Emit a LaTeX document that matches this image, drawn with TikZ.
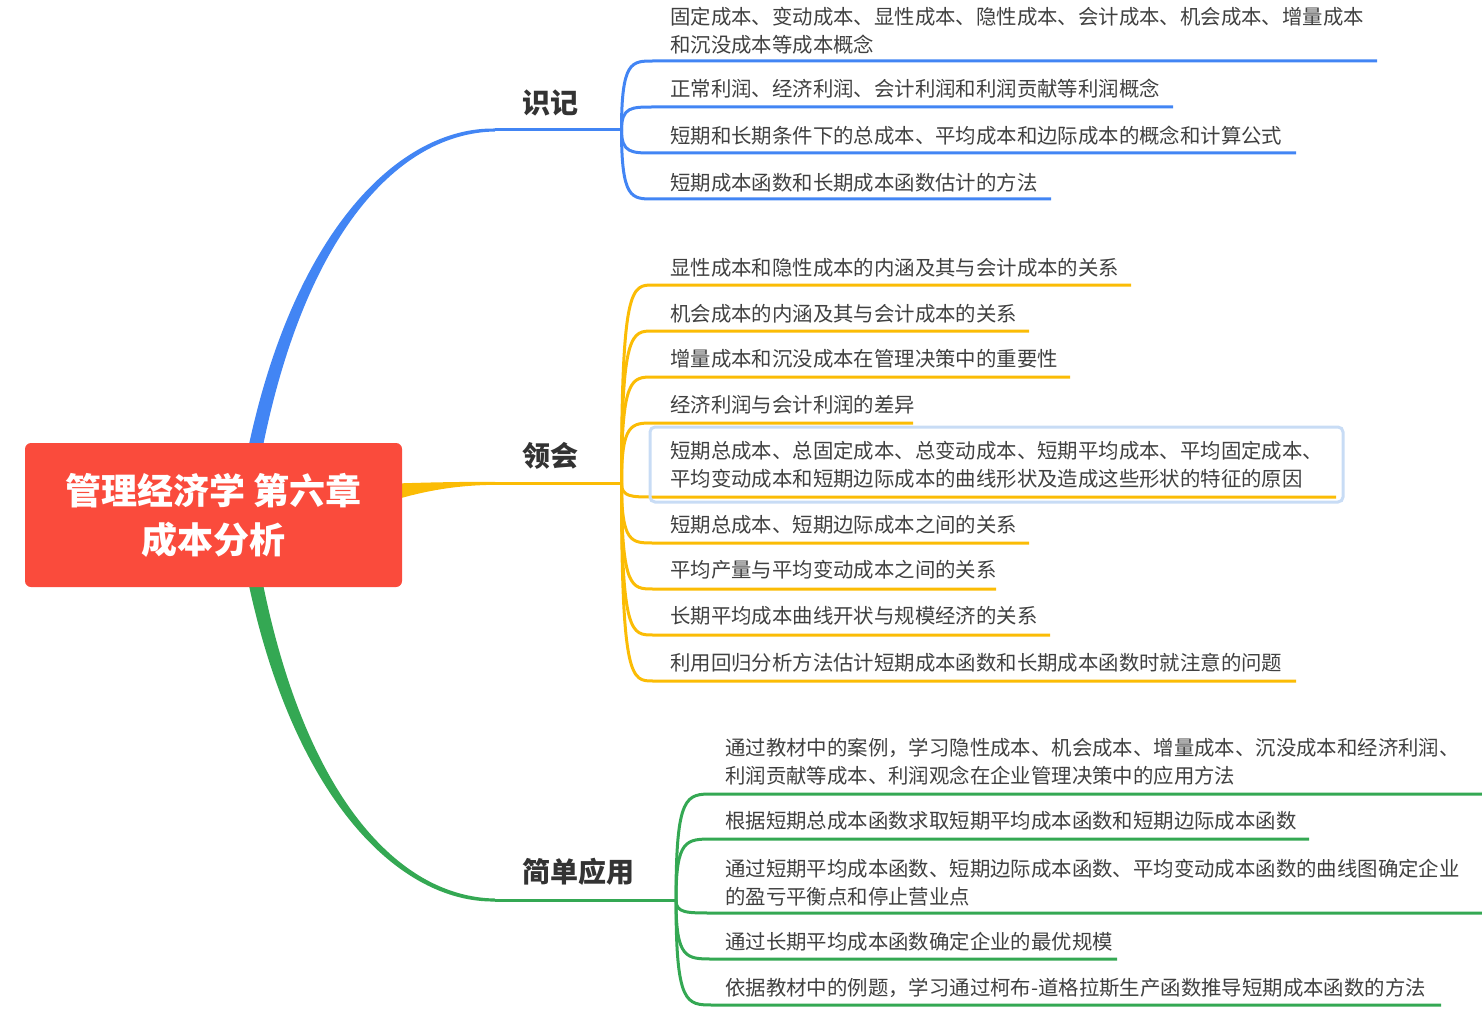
\documentclass[tikz,border=0pt]{standalone}
\usepackage{fontspec}
\setmainfont{Noto Sans CJK SC}
\usetikzlibrary{calc,backgrounds}
\definecolor{mmblue}{RGB}{66,133,244}
\definecolor{mmyellow}{RGB}{251,188,5}
\definecolor{mmgreen}{RGB}{52,168,83}
\definecolor{mmred}{RGB}{250,75,60}
\definecolor{mmtext}{RGB}{64,64,64}
\definecolor{mmlabel}{RGB}{51,51,51}
\definecolor{mmsel}{RGB}{200,220,245}
\tikzset{
  leaftext/.style={anchor=west, inner sep=0pt, align=left, text=mmtext, yshift=-1pt,
    font=\fontsize{20.4}{28}\selectfont},
  leafline/.style={line width=3pt},
  branchlabel/.style={anchor=west, inner sep=0pt, text=mmlabel,
    font=\fontsize{28}{34}\selectfont\bfseries},
  rootnode/.style={fill=mmred, rounded corners=6pt, minimum width=377pt,
    minimum height=144pt, text=white, align=center, inner sep=0pt,
    font=\fontsize{36}{49}\selectfont\bfseries},
  selbox/.style={draw=mmsel, line width=3pt, rounded corners=5pt},
}
% #1 colour, #2 junction, #3 name, #4 underline start x, #5 text x, #6 text y,
% #7 underline y, #8 underline end x, #9 text
\newcommand\mmleaf[9]{%
  \coordinate (#3s) at (#4,#7);
  \coordinate (#3e) at (#8,#7);
  \node[leaftext] (#3) at (#5,#6) {#9};
  \draw[leafline,#1] (#2) .. controls (#2 |- #3s) and ($(#2 |- #3s)+(10,0)$) .. (#3s) -- (#3e);
}
\begin{document}
\begin{tikzpicture}[x=1pt,y=-1pt]
\useasboundingbox (0,0) rectangle (1482,1024);

% root
\node[rootnode] (root) at (213.5,515) {管理经济学 第六章\\成本分析};

% branch labels and junctions
\node[branchlabel] (lb) at (522,103) {识记};
\node[branchlabel] (ly) at (522,456) {领会};
\node[branchlabel] (lg) at (522,872) {简单应用};
\coordinate (bjs) at (495,130);
\coordinate (bj) at (621.5,130);
\coordinate (yjs) at (495,483.3);
\coordinate (yj) at (621.5,483.3);
\coordinate (gjs) at (495,900);
\coordinate (gj) at (676,900);

\begin{scope}[on background layer]
  % tapered main branches
  \fill[mmblue] (248.1,448.6) .. controls (294.5,229) and (400,127) .. ($(bjs)+(0,-1.5)$)
     -- ($(bjs)+(0,1.5)$) .. controls (400,133) and (305.5,231) .. (261.9,451.4) -- cycle;
  \fill[mmgreen] (248.1,581.4) .. controls (294.5,801) and (400,903) .. ($(gjs)+(0,1.5)$)
     -- ($(gjs)+(0,-1.5)$) .. controls (400,897) and (305.5,799) .. (261.9,578.6) -- cycle;
  \fill[mmyellow] (396,483.5) .. controls (440,482) and (470,481.8) .. ($(yjs)+(0,-1.5)$)
     -- ($(yjs)+(0,1.5)$) .. controls (462,485.2) and (432,489) .. (396,499.5) -- cycle;
\end{scope}

\draw[leafline,mmblue] (bjs) -- (bj);
\draw[leafline,mmyellow] (yjs) -- (yj);
\draw[leafline,mmgreen] (gjs) -- (gj);

% 识记
\mmleaf{mmblue}{bj}{b1}{653}{670}{29.5}{61}{1377}{固定成本、变动成本、显性成本、隐性成本、会计成本、机会成本、增量成本\\和沉没成本等成本概念}
\mmleaf{mmblue}{bj}{b2}{653}{670}{88}{107}{1173}{正常利润、经济利润、会计利润和利润贡献等利润概念}
\mmleaf{mmblue}{bj}{b3}{653}{670}{135}{153}{1296}{短期和长期条件下的总成本、平均成本和边际成本的概念和计算公式}
\mmleaf{mmblue}{bj}{b4}{653}{670}{182}{199}{1051}{短期成本函数和长期成本函数估计的方法}

% 领会
\mmleaf{mmyellow}{yj}{y1}{653}{670}{267}{285}{1131}{显性成本和隐性成本的内涵及其与会计成本的关系}
\mmleaf{mmyellow}{yj}{y2}{653}{670}{313}{331}{1029}{机会成本的内涵及其与会计成本的关系}
\mmleaf{mmyellow}{yj}{y3}{653}{670}{358}{377}{1070}{增量成本和沉没成本在管理决策中的重要性}
\mmleaf{mmyellow}{yj}{y4}{653}{670}{404}{423}{913}{经济利润与会计利润的差异}
\mmleaf{mmyellow}{yj}{y5}{653}{670}{464}{497}{1336}{短期总成本、总固定成本、总变动成本、短期平均成本、平均固定成本、\\平均变动成本和短期边际成本的曲线形状及造成这些形状的特征的原因}
\mmleaf{mmyellow}{yj}{y6}{653}{670}{524}{543}{1029}{短期总成本、短期边际成本之间的关系}
\mmleaf{mmyellow}{yj}{y7}{653}{670}{569}{589}{996}{平均产量与平均变动成本之间的关系}
\mmleaf{mmyellow}{yj}{y8}{653}{670}{615}{635}{1050}{长期平均成本曲线开状与规模经济的关系}
\mmleaf{mmyellow}{yj}{y9}{653}{670}{662}{681}{1296}{利用回归分析方法估计短期成本函数和长期成本函数时就注意的问题}

% selection box
\draw[selbox] (650,427) rectangle (1343,502);

% 简单应用
\mmleaf{mmgreen}{gj}{g1}{713}{725}{761}{794}{1482}{通过教材中的案例，学习隐性成本、机会成本、增量成本、沉没成本和经济利润、\\利润贡献等成本、利润观念在企业管理决策中的应用方法}
\mmleaf{mmgreen}{gj}{g2}{713}{725}{820}{839}{1309}{根据短期总成本函数求取短期平均成本函数和短期边际成本函数}
\mmleaf{mmgreen}{gj}{g3}{713}{725}{882}{913}{1482}{通过短期平均成本函数、短期边际成本函数、平均变动成本函数的曲线图确定企业\\的盈亏平衡点和停止营业点}
\mmleaf{mmgreen}{gj}{g4}{713}{725}{941}{959}{1117}{通过长期平均成本函数确定企业的最优规模}
\mmleaf{mmgreen}{gj}{g5}{713}{725}{987}{1005}{1441}{依据教材中的例题，学习通过柯布-道格拉斯生产函数推导短期成本函数的方法}
\end{tikzpicture}
\end{document}
